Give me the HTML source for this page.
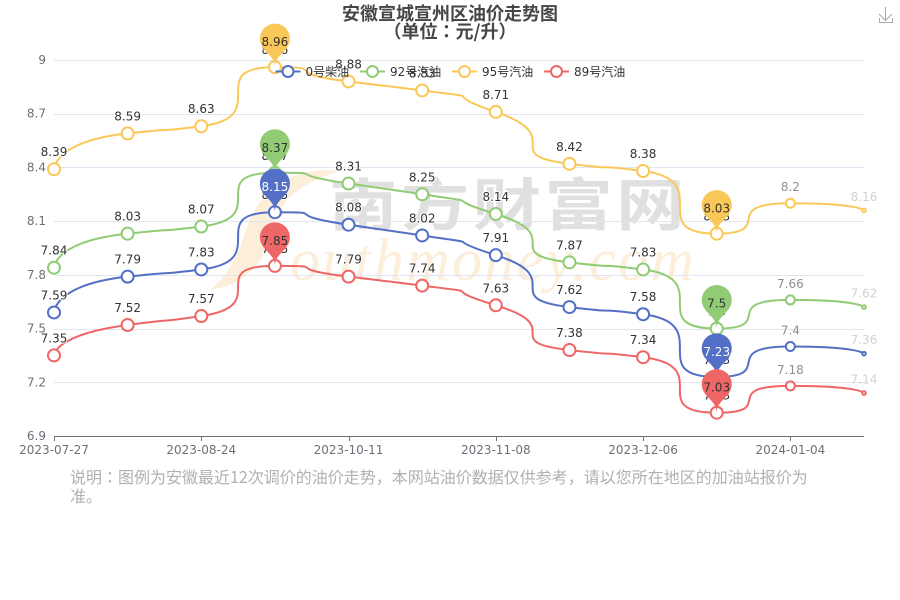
<!DOCTYPE html>
<html>
<head>
<meta charset="utf-8">
<title>安徽宣城宣州区油价走势图</title>
<style>
html,body{margin:0;padding:0;background:#fff;}
#chart{display:block;width:900px;height:600px;}
text{font-family:"DejaVu Sans","Noto Sans CJK JP",sans-serif;}
text.cjk{font-family:"Noto Sans CJK JP",sans-serif;}
</style>
</head>
<body>
<svg id="chart" xmlns="http://www.w3.org/2000/svg" width="900" height="600" viewBox="0 0 900 600">
  <g id="watermark">
    <path d="M342 171 C300 165 262 186 248 224 C240 252 228 276 210 290 C240 286 262 268 268 240 C274 208 295 182 342 171 Z" fill="#fdeeda"/>
    <text x="290" y="280" font-size="60" font-style="italic" fill="#fdeeda" textLength="404" lengthAdjust="spacing" style="font-family:'Liberation Serif',serif">outhmoney.com</text>
    <text transform="translate(329,225) scale(1.14,0.94)" x="0" y="0" font-size="60" font-weight="700" fill="#e0e0e0" letter-spacing="3" style="font-family:'Noto Sans CJK SC',sans-serif">南方财富网</text>
  </g>
  <g id="grid"></g>
  <g id="yAxis"></g>
  <g id="xAxis"></g>
  <g id="lines"></g>
  <g id="dots"></g>
  <g id="labels"></g>
  <g id="pins"></g>
  <g id="legend"></g>
  <text class="cjk" x="450" y="20" text-anchor="middle" font-size="18" font-weight="700" fill="#464646">安徽宣城宣州区油价走势图</text>
  <text class="cjk" x="450" y="38" text-anchor="middle" font-size="18" font-weight="700" fill="#464646">（单位：元/升）</text>
  <g fill="none" stroke="#a8a8a8" stroke-width="1">
    <path d="M885.5 7 V21 M879 14 L885.5 20.5 L892 14"/>
    <path d="M879.5 18 V22.5 H892.5 V18"/>
  </g>
  <text class="cjk" x="70" y="483" font-size="16" fill="#b0b0b0">说明：图例为安徽最近12次调价的油价走势，本网站油价数据仅供参考，请以您所在地区的加油站报价为</text>
  <text class="cjk" x="70" y="502" font-size="16" fill="#b0b0b0">准。</text>
</svg>
<script>
var categories = ["2023-07-27","2023-08-10","2023-08-24","2023-09-21","2023-10-11","2023-10-25","2023-11-08","2023-11-22","2023-12-06","2023-12-20","2024-01-04","2024-01-18"];
var yTicks = [6.9,7.2,7.5,7.8,8.1,8.4,8.7,9];
var xTickEvery = 2;
var diesel0 = [7.59,7.79,7.83,8.15,8.08,8.02,7.91,7.62,7.58,7.23,7.4,7.36];
var gas92 = [7.84,8.03,8.07,8.37,8.31,8.25,8.14,7.87,7.83,7.5,7.66,7.62];
var gas95 = [8.39,8.59,8.63,8.96,8.88,8.83,8.71,8.42,8.38,8.03,8.2,8.16];
var gas89 = [7.35,7.52,7.57,7.85,7.79,7.74,7.63,7.38,7.34,7.03,7.18,7.14];
var seriesNames = ["0号柴油","92号汽油","95号汽油","89号汽油"];
var seriesSlugs = ["diesel-0","gas-92","gas-95","gas-89"];

var NS = "http://www.w3.org/2000/svg";
var colors = ["#5470c6","#91cc75","#fac858","#ee6666"];
var allSeries = [diesel0, gas92, gas95, gas89];
var pinOrder = [2,1,0,3];
var left = 54, right = 864, top_ = 60, bottom = 436;
var yMin = yTicks[0], yMax = yTicks[yTicks.length-1];
function xScale(i){ return left + (right-left)*i/(categories.length-1); }
function yScale(v){ return bottom - (bottom-top_)*(v-yMin)/(yMax-yMin); }
function make(tag, attrs, parent, txt){
  var el = document.createElementNS(NS, tag);
  for (var k in attrs) el.setAttribute(k, attrs[k]);
  if (txt !== undefined) el.textContent = txt;
  parent.appendChild(el);
  return el;
}
function clampBetween(v,a,b){ return Math.max(Math.min(v,Math.max(a,b)),Math.min(a,b)); }
function smoothPath(pts){
  var s = 1;
  var d = "M"+pts[0][0]+" "+pts[0][1];
  var cx0 = pts[0][0], cy0 = pts[0][1];
  for (var i=1;i<pts.length;i++){
    var x=pts[i][0], y=pts[i][1], px=pts[i-1][0], py=pts[i-1][1];
    var cx1,cy1,nx0,ny0;
    if (i===pts.length-1){
      cx1=x; cy1=y; nx0=x; ny0=y;
    } else {
      var nx=pts[i+1][0], ny=pts[i+1][1];
      var vx=nx-px, vy=ny-py;
      var lp=Math.hypot(x-px,y-py), ln=Math.hypot(nx-x,ny-y);
      var r=ln/(ln+lp);
      nx0=clampBetween(x+vx*s*r,x,nx);
      ny0=clampBetween(y+vy*s*r,y,ny);
      vx=nx0-x; vy=ny0-y;
      cx1=clampBetween(x-vx*lp/ln,x,px);
      cy1=clampBetween(y-vy*lp/ln,y,py);
      vx=x-cx1; vy=y-cy1;
      nx0=x+vx*ln/lp;
      ny0=y+vy*ln/lp;
    }
    d+=" C"+cx0.toFixed(2)+" "+cy0.toFixed(2)+" "+cx1.toFixed(2)+" "+cy1.toFixed(2)+" "+x.toFixed(2)+" "+y.toFixed(2);
    cx0=nx0; cy0=ny0;
  }
  return d;
}
function pinPath(x,y){
  var w=30,h=50,r=w/2,dy=r*r/(h-r),cy=y-h+r+dy,ang=Math.asin(dy/r);
  var dx=Math.cos(ang)*r,tx=Math.sin(ang),ty=Math.cos(ang),c1=r*0.6,c2=r*0.7;
  return "M"+(x-dx)+" "+(cy+dy)+" A"+r+" "+r+" 0 1 1 "+(x+dx)+" "+(cy+dy)+
    " C"+(x+dx-tx*c1)+" "+(cy+dy+ty*c1)+" "+x+" "+(y-c2)+" "+x+" "+y+
    " C"+x+" "+(y-c2)+" "+(x-dx+tx*c1)+" "+(cy+dy+ty*c1)+" "+(x-dx)+" "+(cy+dy)+"Z";
}
var gGrid=document.getElementById("grid"), gY=document.getElementById("yAxis"), gX=document.getElementById("xAxis"),
    gLines=document.getElementById("lines"), gDots=document.getElementById("dots"), gLabels=document.getElementById("labels"),
    gPins=document.getElementById("pins"), gLegend=document.getElementById("legend");

yTicks.forEach(function(t){
  var y=Math.round(yScale(t))+0.5;
  if (t!==yMin){
    var gl=make("line",{x1:left,x2:right,y1:y,y2:y,stroke:"#E0E6F1","stroke-width":1},gGrid);
    
    
  }
  var tl=make("text",{x:46,y:yScale(t)+4,"text-anchor":"end","font-size":12,fill:"#6E7079"},gY,String(t));
  
  
});
var axis=make("line",{x1:left,x2:right,y1:bottom+0.5,y2:bottom+0.5,stroke:"#6E7079","stroke-width":1},gX);


categories.forEach(function(c,i){
  if (i%xTickEvery!==0) return;
  var x=Math.round(xScale(i))+0.5;
  var tick=make("line",{x1:x,x2:x,y1:bottom,y2:bottom+5,stroke:"#6E7079","stroke-width":1},gX);
  
  
  var lab=make("text",{x:xScale(i),y:454,"text-anchor":"middle","font-size":12,fill:"#6E7079"},gX,c);
  
  
});
allSeries.forEach(function(vals,si){
  var pts=vals.map(function(v,i){return [xScale(i),yScale(v)];});
  var p=make("path",{d:smoothPath(pts),fill:"none",stroke:colors[si],"stroke-width":2,"stroke-linejoin":"round"},gLines);
  
  
  vals.forEach(function(v,i){
    var isLast = i===vals.length-1;
    var rad = isLast ? 1.8 : (i===vals.length-2 ? 4.5 : 6);
    var c=make("circle",{cx:pts[i][0],cy:pts[i][1],r:rad,fill:"#fff",stroke:colors[si],"stroke-width":2},gDots);
    
    
    var off = isLast ? 9.5 : (i===vals.length-2 ? 12 : 13);
    var op = isLast ? 0.22 : (i===vals.length-2 ? 0.55 : 1);
    var t=make("text",{x:pts[i][0],y:pts[i][1]-off,"text-anchor":"middle","font-size":12,fill:"#333",opacity:op,stroke:"#fff","stroke-width":2,"paint-order":"stroke"},gLabels,String(v));
    
    
  });
});
pinOrder.forEach(function(si){
  var vals=allSeries[si];
  [Math.max.apply(null,vals),Math.min.apply(null,vals)].forEach(function(v){
    var i=vals.indexOf(v), x=xScale(i), y=yScale(v);
    var pin=make("path",{d:pinPath(x,y),fill:colors[si]},gPins);
    
    
    var t=make("text",{x:x,y:y-21,"text-anchor":"middle","font-size":12,fill:si===0?"#fff":"#333"},gPins,String(v));
    
    
  });
});
seriesNames.forEach(function(n,si){
  var lx=[275.5,360,452,544][si], tx=[305.5,390,482,574][si], ly=71.5;
  var g=make("g",{},gLegend);
  
  
  var ln=make("line",{x1:lx,x2:lx+25,y1:ly,y2:ly,stroke:colors[si],"stroke-width":2},g);
  
  
  var ci=make("circle",{cx:lx+12.5,cy:ly,r:5.5,fill:"#fff",stroke:colors[si],"stroke-width":2},g);
  
  
  var tt=make("text",{x:tx,y:ly+4.5,"font-size":12,fill:"#333"},g,n);
  
  
});
</script>
</body>
</html>
